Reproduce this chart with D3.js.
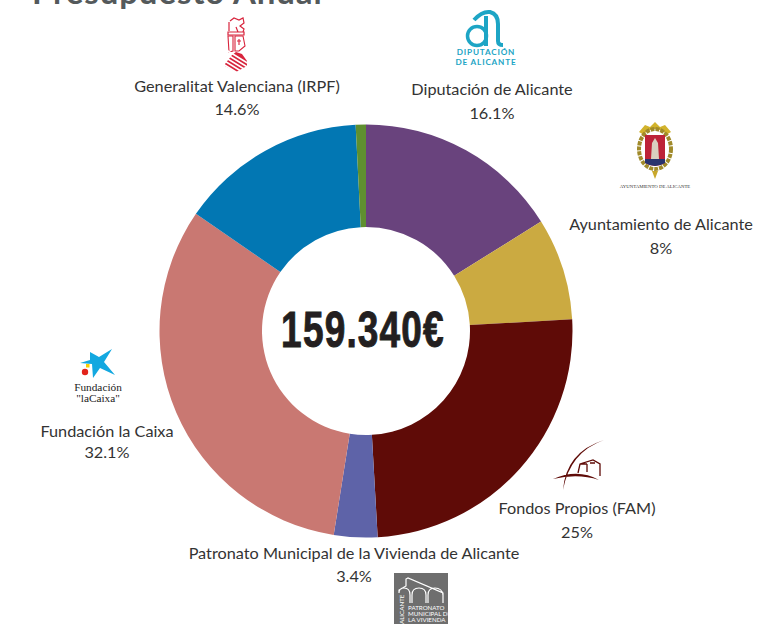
<!DOCTYPE html>
<html><head><meta charset="utf-8">
<script src="https://cdn.jsdelivr.net/npm/d3@7/dist/d3.min.js"></script>
<style>html,body{margin:0;padding:0;background:#fff;overflow:hidden}svg{display:block}text{font-family:Lato,sans-serif}</style>
</head><body><svg id="c" width="766" height="624"></svg>
<script>
const categories=["Diputación de Alicante","Ayuntamiento de Alicante","Fondos Propios (FAM)","Patronato Municipal de la Vivienda de Alicante","Fundación la Caixa","Generalitat Valenciana (IRPF)","Otros"];
const values=[16.1,8,25,3.4,32.1,14.6,0.8];
const valueLabels=["16.1%","8%","25%","3.4%","32.1%","14.6%",""];
const colors=["#69437d","#cbaa41","#5f0b07","#5e63a8","#c97872","#0277b3","#5f8f2f"];
const title="Presupuesto Anual";
const total="159.340€";
const svg=d3.select("#c");
svg.append("text").attr("x",32).attr("y",4).attr("font-size",33).attr("font-weight",700).attr("letter-spacing",0.9).attr("fill","#54595b").text(title);
const pie=d3.pie().value(d=>d).sort(null);
const arc=d3.arc().innerRadius(104).outerRadius(206.5);
const g=svg.append("g").attr("transform","translate(366,331)");
g.selectAll("path").data(pie(values)).join("path").attr("d",arc).attr("fill",(d,i)=>colors[i]);
g.append("text").attr("text-anchor","middle").attr("transform","translate(-3,16) scale(.74,1)").attr("font-size",50).attr("font-weight",700).attr("letter-spacing",1.6)
 .style("font-family","'Liberation Sans Narrow','Liberation Sans'").attr("stroke","#231f20").attr("stroke-width",1).attr("fill","#231f20").text(total);
const labelPos=[[492,95],[661,230],[577,514],[354,559],[107,437],[237,92]];
const pctDy=[24,24,24,23,21,23];
categories.slice(0,6).forEach((c,i)=>{
 const t=svg.append("text").attr("text-anchor","middle").attr("font-size",16.25).attr("fill","#333");
 t.append("tspan").attr("x",labelPos[i][0]).attr("y",labelPos[i][1]).text(c);
 t.append("tspan").attr("x",labelPos[i][0]).attr("y",labelPos[i][1]+pctDy[i]).text(valueLabels[i]);
});
// Logos (simplified)
const gv=svg.append("g").attr("transform","translate(236,46)");
gv.append("path").attr("d","M-6,-25 L-2,-28 L3,-26 L7,-28 L8,-23 L4,-20 L8,-17 L7,-14 L2,-14 L0,-19 M-7,-24 L-7,-15 M-8,-14 L8,-14 L8,-11 L-8,-11 Z").attr("fill","none").attr("stroke","#d8243c").attr("stroke-width",1.2);
gv.append("path").attr("d","M-8,-10 L-3,-10 L-3,5 L-7,6 Z M-1,-10 L7,-10 L9,0 L3,5 L-1,5 Z M3,-7 L3,-1 M1,-5 L5,-5").attr("fill","none").attr("stroke","#d8243c").attr("stroke-width",1.1);
gv.append("path").attr("d","M-11,18 L-4,9 L0,6 L6,8 L11,15 L11,20 L0,26 L-11,20 Z").attr("fill","#d8243c");
[6,10,14,18,22].forEach(y=>gv.append("line").attr("x1",-13).attr("x2",13).attr("y1",y-4).attr("y2",y+12).attr("stroke","#fff").attr("stroke-width",1.5));
const dp=svg.append("g").attr("fill","#1da5c5");
dp.append("path").attr("d","M474,20 Q482,11 490,12 Q498,14 498,24 L498,41 Q498,45 503,45 M486,16 L486,46").attr("fill","none").attr("stroke","#1da5c5").attr("stroke-width",4);
dp.append("circle").attr("cx",477).attr("cy",36).attr("r",9.5).attr("fill","none").attr("stroke","#1da5c5").attr("stroke-width",3.5);
dp.append("text").attr("text-anchor","middle").attr("x",486).attr("y",55).attr("font-size",8.2).attr("font-weight",700).attr("letter-spacing",.8).text("DIPUTACIÓN");
dp.append("text").attr("text-anchor","middle").attr("x",486).attr("y",65).attr("font-size",8.2).attr("font-weight",700).attr("letter-spacing",.8).text("DE ALICANTE");
const ay=svg.append("g").attr("transform","translate(655,150)");
ay.append("path").attr("d","M-16,-18 L-10,-25 L-5,-23 L0,-28 L5,-23 L10,-25 L16,-18 L11,-15 L-11,-15 Z").attr("fill","#d2b32c");
ay.append("ellipse").attr("cy",-1).attr("rx",16).attr("ry",20).attr("fill","#fff").attr("stroke","#a08a2a").attr("stroke-width",4).attr("stroke-dasharray","4 1");
ay.append("path").attr("d","M-10,-15 L10,-15 L10,13 Q0,19 -10,13 Z").attr("fill","#bd2238");
ay.append("path").attr("d","M-10,9 L10,9 L10,13 Q0,19 -10,13 Z").attr("fill","#28336e");
ay.append("path").attr("d","M-4,9 L-3,-7 L0,-12 L3,-7 L4,9 Z").attr("fill","#d9cfc0");
ay.append("path").attr("d","M-3,21 L3,21 L0,29 Z").attr("fill","#c9a82a");
ay.append("text").attr("text-anchor","middle").attr("y",38).attr("font-size",4.8).attr("fill","#333").style("font-family","'Liberation Serif'").text("AYUNTAMIENTO DE ALICANTE");
const fc=svg.append("g");
fc.append("path").attr("d","M90,352 L99,357 L112,349 L104,362 L115,375 L100,368 L93,378 L92,364 L80,363 L90,360 Z").attr("fill","#13a8e0");
fc.append("circle").attr("cx",85).attr("cy",372).attr("r",3.2).attr("fill","#e2231a");
fc.append("rect").attr("x",86).attr("y",364).attr("width",3.5).attr("height",3.5).attr("fill","#fbd000");
fc.append("text").attr("text-anchor","middle").attr("x",98).attr("y",391).attr("font-size",11.3).attr("fill","#222").style("font-family","'Liberation Serif'").text("Fundación");
fc.append("text").attr("text-anchor","middle").attr("x",98).attr("y",402).attr("font-size",11.3).attr("fill","#222").style("font-family","'Liberation Serif'").text("\"laCaixa\"");
const fp=svg.append("g").attr("fill","#5f0b07");
fp.append("path").attr("d","M604,440 Q570,452 563,490 Q566,452 604,440 Z M553,479 Q578,468 599,480 Q578,473 553,479 Z");
fp.append("path").attr("d","M578,473 L580,464 L593,460 L600,464 L600,476 M587,464 L587,472 M580,464 L587,464 M590,463 L595,463").attr("fill","none").attr("stroke","#5f0b07").attr("stroke-width",1.3);
const pa=svg.append("g").attr("transform","translate(394,573)");
pa.append("rect").attr("width",54).attr("height",51).attr("fill","#6e6e6e");
pa.append("path").attr("d","M5,20 L5,17 L12,13 L12,6 L14,5 L49,20 L49,30 M5,20 Q5,15 10,15 Q16,15 16,22 L16,30 M18,30 L18,22 Q18,15 25,15 Q32,15 32,22 L32,30 M34,30 L34,22 Q34,15 41,15 Q48,15 49,22").attr("fill","none").attr("stroke","#fff").attr("stroke-width",1.2);
[["PATRONATO",37],["MUNICIPAL DE",43],["LA VIVIENDA",49]].forEach(d=>pa.append("text").attr("x",14).attr("y",d[1]).attr("font-size",6.2).attr("fill","#fff").text(d[0]));
pa.append("text").attr("transform","translate(10,51) rotate(-90)").attr("font-size",6.2).attr("fill","#fff").text("ALICANTE");
</script></body></html>
